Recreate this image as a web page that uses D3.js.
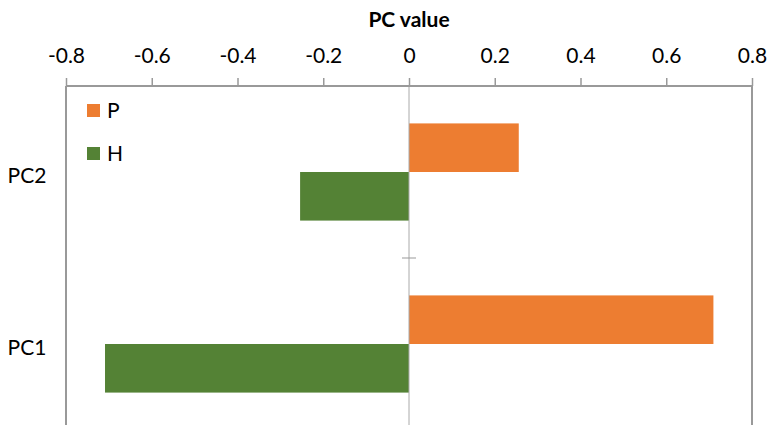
<!DOCTYPE html>
<html><head><meta charset="utf-8">
<script src="https://cdn.jsdelivr.net/npm/d3@7"></script>
<style>body{margin:0;background:#fff;} svg{display:block;}</style>
</head><body>
<svg id="c" width="769" height="425"></svg>
<script>
const categories = ["PC1", "PC2"];
const seriesNames = ["P", "H"];
const valuesP = [0.71, 0.256];
const valuesH = [-0.709, -0.254];
const tickValues = [-0.8, -0.6, -0.4, -0.2, 0, 0.2, 0.4, 0.6, 0.8];
const colors = ["#ED7D31", "#548235"];
const axisTitle = "PC value";

(function () {
const svg = d3.select("#c");
const font = "Lato, 'Open Sans', sans-serif";
const mLeft = 66, mRight = 752, mTop = 86, mBottom = 430;

const x = d3.scaleLinear().domain([-0.8, 0.8]).range([mLeft, mRight]);
const y = d3.scaleBand().domain(categories).range([mBottom, mTop]);
const inner = d3.scaleBand().domain(seriesNames).range([0, y.bandwidth()]).paddingInner(0).paddingOuter(0.77);

svg.append("line").attr("x1", mLeft).attr("x2", mLeft).attr("y1", mTop).attr("y2", mBottom).attr("stroke", "#999").attr("stroke-width", 2);
svg.append("line").attr("x1", mRight).attr("x2", mRight).attr("y1", mTop).attr("y2", mBottom).attr("stroke", "#999").attr("stroke-width", 2);

const data = [];
categories.forEach((c, i) => {
  data.push({cat: c, s: "P", v: valuesP[i], col: colors[0]});
  data.push({cat: c, s: "H", v: valuesH[i], col: colors[1]});
});
svg.append("g").selectAll("rect").data(data).join("rect")
  .attr("x", d => Math.min(x(0), x(d.v)))
  .attr("width", d => Math.abs(x(d.v) - x(0)))
  .attr("y", d => y(d.cat) + inner(d.s))
  .attr("height", inner.bandwidth())
  .attr("fill", d => d.col);

svg.append("line").attr("x1", x(0)).attr("x2", x(0)).attr("y1", mTop).attr("y2", mBottom).attr("stroke", "#aaa").attr("stroke-width", 1);
categories.slice(1).forEach(c => {
  const yy = y(c) + y.bandwidth();
  svg.append("line").attr("x1", x(0) - 7).attr("x2", x(0) + 7).attr("y1", yy).attr("y2", yy).attr("stroke", "#999").attr("stroke-width", 1);
});

const ax = d3.axisTop(x).tickValues(tickValues).tickSize(8).tickPadding(15)
  .tickFormat(d => d === 0 ? "0" : String(+d.toFixed(1)));
const g = svg.append("g").attr("transform", `translate(0,${mTop})`).call(ax);
g.select(".domain").attr("stroke", "#999").attr("stroke-width", 2).attr("d", `M${mLeft},0H${mRight}`);
g.selectAll(".tick line").attr("stroke", "#999").attr("stroke-width", 1.5);
g.selectAll(".tick text").attr("fill", "#000").style("font-family", font).style("font-size", "21px");

svg.append("g").selectAll("text").data(categories).join("text")
  .attr("x", 27).attr("y", d => y(d) + y.bandwidth() / 2 + 11)
  .attr("text-anchor", "middle")
  .style("font-family", font).style("font-size", "21px").text(d => d);

svg.append("text").attr("x", (mLeft + mRight) / 2).attr("y", 27).attr("text-anchor", "middle")
  .style("font-family", font).style("font-size", "21px").style("font-weight", "bold").text(axisTitle);

const leg = svg.append("g");
seriesNames.forEach((s, i) => {
  const yy = 104 + i * 43;
  leg.append("rect").attr("x", 87).attr("y", yy).attr("width", 13).attr("height", 13).attr("fill", colors[i]);
  leg.append("text").attr("x", 107).attr("y", yy + 14)
    .style("font-family", font).style("font-size", "21px").text(s);
});
})();
</script>
</body></html>
